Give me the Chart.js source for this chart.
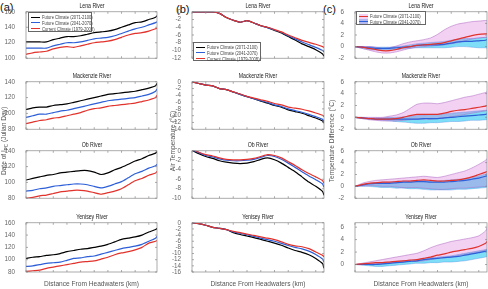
<!DOCTYPE html>
<html>
<head>
<meta charset="utf-8">
<script src="https://cdn.jsdelivr.net/npm/chart.js@4.4.1/dist/chart.umd.min.js"></script>
<style>
  html, body { margin: 0; padding: 0; background: #fff; }
  #fig { position: relative; width: 488px; height: 289px; overflow: hidden;
         font-family: 'Liberation Sans', Arial, sans-serif; color: #333; }
  #fig canvas { position: absolute; }
  .txt { position: absolute; white-space: nowrap; line-height: 1; }
  .panel { font-size: 11px; color: #111; }
  .river { font-size: 8px; color: #222; transform: translateX(-50%) scaleX(0.65); }
  .xtitle { font-size: 6.6px; color: #555; transform: translateX(-50%); }
  .ytitle { font-size: 6.6px; color: #555; transform: translate(-50%, -50%) rotate(-90deg); }
  .legend { position: absolute; background: #fff; border: 0.6px solid #666; box-sizing: border-box; }
  .legend .row { position: absolute; left: 0; height: 5px; }
  .legend .sw { position: absolute; left: 2px; top: 2px; width: 9px; height: 0; border-top: 1.3px solid #000; }
  .legend .patch { position: absolute; left: 2px; top: 0; width: 9px; height: 5px; }
  .legend .lt { position: absolute; left: 13px; top: -0.5px; font-size: 5.5px; color: #444; white-space: nowrap;
                transform: scaleX(0.75); transform-origin: left center; }
</style>
</head>
<body>
<div id="fig">
  <div class="txt panel" style="left:0px;top:2px">(a)</div>
  <div class="txt panel" style="left:176px;top:4px">(b)</div>
  <div class="txt panel" style="left:323px;top:4px">(c)</div>
</div>
<script>
// distance along the river (km)
const distanceKm = [0, 100, 200, 300, 400, 500, 600, 700, 800, 900, 1000, 1100, 1200, 1300, 1400, 1500, 1600, 1700, 1800, 1900, 1920];
const distanceTicks = [0, 200, 400, 600, 800, 1000, 1200, 1400, 1600, 1800];

const rivers = ['Lena River', 'Mackenzie River', 'Ob River', 'Yenisey River'];

// (a) date of ice-cover onset (Julian day)
const lenaDate2071 = [121, 121, 121, 121, 124, 126, 128, 128, 129, 131, 133, 134, 135, 137, 140, 143, 146, 147, 150, 153, 155];
const lenaDate2041 = [113, 113, 113, 113, 116, 118, 120, 120, 121, 123, 125, 126, 127, 129, 132, 135, 138, 140, 143, 146, 147];
const lenaDate1979 = [105, 107, 108, 109, 112, 114, 115, 114, 116, 118, 120, 121, 122, 124, 127, 130, 132, 133, 135, 138, 139];
const mackDate2071 = [105, 107, 108, 108, 110, 111, 112, 114, 116, 118, 120, 122, 124, 125, 126, 127, 128, 130, 132, 135, 138];
const mackDate2041 = [95, 97, 99, 99, 101, 103, 104, 106, 108, 110, 112, 114, 116, 117, 118, 119, 120, 122, 124, 128, 131];
const mackDate1979 = [87, 89, 91, 92, 94, 95, 97, 99, 101, 104, 106, 107, 109, 110, 111, 112, 113, 115, 117, 120, 123];
const obDate2071 = [103, 105, 107, 109, 110, 112, 113, 114, 115, 115, 113, 110, 112, 116, 119, 123, 127, 130, 134, 137, 139];
const obDate2041 = [89, 90, 92, 93, 95, 96, 97, 98, 98, 97, 95, 93, 95, 98, 101, 106, 111, 114, 118, 121, 123];
const obDate1979 = [80, 81, 83, 84, 86, 88, 89, 90, 90, 89, 87, 85, 87, 89, 92, 97, 102, 105, 109, 112, 114];
const yenDate2071 = [102, 104, 105, 107, 108, 110, 113, 115, 117, 118, 120, 122, 125, 129, 133, 135, 137, 140, 145, 149, 151];
const yenDate2041 = [89, 90, 92, 94, 95, 96, 99, 102, 103, 105, 106, 109, 112, 115, 118, 120, 122, 125, 130, 135, 138];
const yenDate1979 = [81, 82, 83, 86, 88, 90, 92, 94, 96, 97, 98, 101, 104, 108, 111, 113, 116, 120, 127, 130, 131];

// (b) air temperature (°C)
const lenaTemp2071 = [0, 0, 0, 0, -0.4, -1.5, -2.2, -2.7, -2.3, -2.9, -3.6, -4.1, -4.8, -5.5, -6.4, -7.3, -8.3, -9.0, -9.8, -10.9, -11.5];
const lenaTemp2041 = [0, 0, 0, 0, -0.4, -1.5, -2.2, -2.7, -2.3, -2.9, -3.6, -4.1, -4.7, -5.3, -6.2, -7.0, -7.8, -8.5, -9.2, -10.0, -10.4];
const lenaTemp1979 = [0, 0, 0, 0, -0.4, -1.5, -2.2, -2.7, -2.3, -2.9, -3.6, -4.0, -4.6, -5.2, -6.0, -6.7, -7.4, -7.9, -8.4, -9.0, -9.2];
const mackTemp2071 = [0, -0.5, -1, -1.2, -2, -2.3, -3, -3.7, -4.4, -5, -5.7, -6.3, -7, -7.5, -8.3, -8.8, -9.3, -10, -10.7, -11.6, -12.2];
const mackTemp2041 = [0, -0.5, -1, -1.2, -2, -2.3, -3, -3.7, -4.4, -5, -5.6, -6.1, -6.8, -7.3, -8, -8.5, -9, -9.6, -10.3, -11.1, -11.7];
const mackTemp1979 = [0, -0.5, -1, -1.2, -2, -2.3, -3, -3.6, -4.3, -4.8, -5.3, -5.8, -6.4, -6.8, -7.5, -7.8, -8.1, -8.6, -9.2, -9.9, -10.3];
const obTemp2071 = [0.1, -0.6, -1.2, -1.6, -2.1, -2.4, -2.6, -2.7, -2.6, -2.3, -1.8, -1.5, -1.9, -2.6, -3.5, -4.4, -5.5, -6.6, -7.5, -8.6, -9.4];
const obTemp2041 = [0.2, -0.4, -1, -1.3, -1.7, -2, -2.1, -2.1, -2, -1.8, -1.4, -1, -1.2, -1.8, -2.6, -3.5, -4.4, -5.3, -6.1, -7, -7.7];
const obTemp1979 = [0.3, -0.3, -0.8, -1.1, -1.5, -1.8, -1.9, -1.9, -1.8, -1.6, -1.2, -0.8, -1, -1.5, -2.3, -3.1, -4, -4.8, -5.5, -6.3, -6.9];
const yenTemp2071 = [0, -0.3, -0.8, -1.5, -1.8, -2.2, -3.2, -3.8, -4.3, -4.8, -5.4, -6, -6.6, -7.3, -8.2, -9, -9.6, -10.4, -11.6, -13.3, -14.8];
const yenTemp2041 = [0, -0.3, -0.8, -1.5, -1.8, -2.2, -3, -3.4, -3.9, -4.4, -5, -5.5, -6, -6.7, -7.4, -8, -8.5, -9.2, -10.3, -11.8, -12.8];
const yenTemp1979 = [0, -0.3, -0.8, -1.5, -1.8, -2.2, -2.8, -3.2, -3.7, -4.1, -4.6, -5, -5.5, -6.2, -7, -7.5, -7.8, -8.4, -9.5, -10.6, -11.1];

// (c) temperature difference (°C): mean and spread
const lenaDiff2071 = [0, -0.1, -0.3, -0.5, -0.7, -0.7, -0.5, -0.2, 0, 0.2, 0.3, 0.4, 0.5, 0.7, 1, 1.3, 1.6, 1.9, 2.1, 2.2, 2.2];
const lenaDiff2071Hi = [0, 0, 0, -0.1, -0.3, -0.2, 0.1, 0.5, 0.8, 1, 1.2, 1.5, 2.1, 2.9, 3.5, 3.9, 4.1, 4.3, 4.4, 4.5, 4.5];
const lenaDiff2071Lo = [0, -0.3, -0.6, -0.9, -1.1, -1.1, -0.9, -0.6, -0.3, -0.1, 0, 0.1, 0.2, 0.3, 0.5, 0.7, 1, 1.3, 1.5, 1.6, 1.6];
const lenaDiff2041 = [0, -0.1, -0.2, -0.3, -0.3, -0.3, -0.2, -0.1, 0, 0.2, 0.3, 0.3, 0.3, 0.4, 0.6, 0.8, 0.9, 0.9, 1, 1.1, 1.2];
const lenaDiff2041Hi = [0, 0, 0, -0.1, -0.1, -0.1, 0, 0.1, 0.3, 0.5, 0.6, 0.7, 0.8, 0.9, 1.1, 1.3, 1.4, 1.4, 1.5, 1.6, 1.7];
const lenaDiff2041Lo = [0, -0.3, -0.5, -0.6, -0.6, -0.6, -0.5, -0.4, -0.3, -0.2, -0.2, -0.2, -0.2, -0.2, -0.1, 0, 0, -0.1, -0.2, -0.2, -0.3];

const mackDiff2071 = [0, -0.1, -0.2, -0.3, -0.3, -0.3, -0.2, 0, 0.3, 0.5, 0.5, 0.5, 0.5, 0.7, 1, 1.2, 1.3, 1.5, 1.7, 1.9, 2];
const mackDiff2071Hi = [0, 0, 0, 0, 0, 0.2, 0.4, 0.8, 1.5, 2.2, 2.4, 2.4, 2.3, 2.5, 2.8, 3.1, 3.4, 3.6, 3.9, 4.2, 4.3];
const mackDiff2071Lo = [0, -0.2, -0.4, -0.5, -0.6, -0.6, -0.6, -0.5, -0.4, -0.3, -0.3, -0.3, -0.2, -0.1, 0.1, 0.3, 0.5, 0.7, 0.9, 1.1, 1.2];
const mackDiff2041 = [0, -0.1, -0.2, -0.3, -0.3, -0.3, -0.3, -0.3, -0.3, -0.3, -0.2, -0.2, -0.2, -0.1, 0, 0.1, 0.2, 0.3, 0.4, 0.5, 0.6];
const mackDiff2041Hi = [0, 0, -0.1, -0.1, -0.1, 0, 0, 0.1, 0.2, 0.3, 0.4, 0.5, 0.5, 0.6, 0.7, 0.8, 0.9, 1, 1.1, 1.2, 1.2];
const mackDiff2041Lo = [0, -0.2, -0.3, -0.4, -0.5, -0.6, -0.7, -0.8, -0.9, -1, -1, -0.9, -0.9, -0.8, -0.7, -0.7, -0.6, -0.5, -0.5, -0.4, -0.4];

const obDiff2071 = [0, 0.3, 0.5, 0.6, 0.7, 0.7, 0.8, 0.9, 0.9, 1, 1.1, 1, 0.9, 0.9, 1, 1.1, 1.3, 1.6, 2, 2.4, 2.5];
const obDiff2071Hi = [0, 0.5, 0.8, 1, 1.1, 1.2, 1.3, 1.4, 1.5, 1.6, 1.7, 1.6, 1.5, 1.7, 2, 2.3, 2.6, 3.1, 3.7, 4.4, 4.7];
const obDiff2071Lo = [0, 0.1, 0.1, 0.1, 0, 0, -0.1, -0.2, -0.2, -0.2, -0.3, -0.4, -0.5, -0.5, -0.4, -0.3, -0.3, -0.2, -0.1, 0, 0.1];
const obDiff2041 = [0, 0.2, 0.4, 0.5, 0.5, 0.5, 0.6, 0.7, 0.7, 0.8, 0.8, 0.7, 0.7, 0.7, 0.8, 0.9, 1, 1.2, 1.4, 1.7, 1.8];
const obDiff2041Hi = [0, 0.3, 0.5, 0.6, 0.7, 0.7, 0.8, 0.9, 0.9, 1, 1, 0.9, 0.9, 1, 1.1, 1.2, 1.3, 1.5, 1.8, 2.1, 2.2];
const obDiff2041Lo = [0, 0, 0, -0.1, -0.2, -0.2, -0.3, -0.3, -0.4, -0.4, -0.5, -0.6, -0.6, -0.6, -0.6, -0.5, -0.5, -0.4, -0.3, -0.2, -0.1];

const yenDiff2071 = [0, 0.1, 0.2, 0.3, 0.3, 0.4, 0.5, 0.6, 0.7, 0.8, 1, 1.2, 1.5, 1.7, 2, 2.2, 2.4, 2.6, 2.9, 3.4, 3.7];
const yenDiff2071Hi = [0, 0.2, 0.4, 0.6, 0.8, 1, 1.2, 1.4, 1.6, 1.8, 2.2, 2.7, 3.1, 3.4, 3.7, 3.9, 4.1, 4.3, 4.6, 5.4, 5.9];
const yenDiff2071Lo = [0, 0, 0.1, 0.1, 0.1, 0.2, 0.3, 0.4, 0.5, 0.5, 0.6, 0.8, 1, 1.1, 1.2, 1.4, 1.6, 1.8, 2, 2.3, 2.5];
const yenDiff2041 = [0, 0, 0, 0, 0.1, 0.2, 0.3, 0.4, 0.5, 0.6, 0.8, 0.9, 1, 1.1, 1.2, 1.3, 1.5, 1.7, 1.9, 2.1, 2.2];
const yenDiff2041Hi = [0, 0.1, 0.1, 0.2, 0.3, 0.4, 0.5, 0.6, 0.7, 0.8, 1, 1.1, 1.2, 1.3, 1.4, 1.6, 1.8, 2, 2.2, 2.4, 2.5];
const yenDiff2041Lo = [0, -0.1, -0.2, -0.3, -0.3, -0.2, -0.1, 0, 0.1, 0.2, 0.2, 0.3, 0.3, 0.4, 0.4, 0.5, 0.6, 0.8, 1, 1.2, 1.3];

// y tick labels per panel
const dateTicks = [[100, 120, 140, 160], [80, 100, 120, 140], [80, 100, 120, 140], [80, 100, 120, 140, 160]];
const tempTicks = [
  [-12, -10, -8, -6, -4, -2, 0],
  [-14, -12, -10, -8, -6, -4, -2, 0],
  [-10, -8, -6, -4, -2, 0],
  [-16, -14, -12, -10, -8, -6, -4, -2, 0]
];
const diffTicks = [[-2, 0, 2, 4, 6], [-2, 0, 2, 4, 6], [-2, 0, 2, 4, 6], [0, 2, 4, 6]];

const legendA = ['Future Climate (2071-2100)', 'Future Climate (2041-2070)', 'Current Climate (1979-2008)'];
const legendC = ['Future Climate (2071-2100)', 'Future Climate (2041-2070)'];

// layout (px)
const colLeft = [26, 192, 355];
const colRight = [157, 324, 487];
const rowTop = [10, 80, 149, 221];
const rowBottom = [61, 132, 201, 272];
const X_MAX = 1920;

const BLACK = '#000000';
const BLUE = '#2d5fd8';
const RED = '#e2322c';
const PINK_FILL = 'rgba(214,112,214,0.32)';
const PINK_EDGE = 'rgba(160,80,185,0.75)';
const CYAN_FILL = 'rgba(0,190,240,0.5)';
const CYAN_EDGE = 'rgba(70,110,220,0.6)';
const TICK_FONT = "'Liberation Sans Narrow', 'Liberation Sans', Arial, sans-serif";
const TICK_COLOR = '#666';

const fig = document.getElementById('fig');

function pts(values) {
  return values.map((v, i) => ({ x: distanceKm[i], y: v }));
}

function line(values, color, order) {
  return { data: pts(values), borderColor: color, borderWidth: 1.2, pointRadius: 0,
           tension: 0.2, fill: false, order: order };
}

function band(values, edge, order, fillColor) {
  return { data: pts(values), borderColor: edge, borderWidth: 0.6, pointRadius: 0,
           tension: 0.2, fill: fillColor ? '-1' : false, backgroundColor: fillColor || 'transparent',
           order: order };
}

// MATLAB-like box with inward ticks
const boxTicks = {
  id: 'boxTicks',
  afterDatasetsDraw(chart) {
    const { ctx, chartArea: a, scales: { x, y } } = chart;
    ctx.save();
    ctx.strokeStyle = '#888';
    ctx.lineWidth = 0.7;
    ctx.strokeRect(a.left, a.top, a.right - a.left, a.bottom - a.top);
    ctx.beginPath();
    x.ticks.forEach((t) => {
      const px = x.getPixelForValue(t.value);
      ctx.moveTo(px, a.bottom); ctx.lineTo(px, a.bottom - 2);
      ctx.moveTo(px, a.top); ctx.lineTo(px, a.top + 2);
    });
    y.ticks.forEach((t) => {
      const py = y.getPixelForValue(t.value);
      ctx.moveTo(a.left, py); ctx.lineTo(a.left + 2, py);
      ctx.moveTo(a.right, py); ctx.lineTo(a.right - 2, py);
    });
    ctx.stroke();
    ctx.restore();
  }
};

function makePanel(col, row, datasets, yMin, yMax, yTicks) {
  const L = colLeft[col], R = colRight[col], T = rowTop[row], B = rowBottom[row];
  const yW = 24, padT = 5, padR = 5, padB = 4;
  const xH = row === 3 ? 10 : 0;
  const w = yW + (R - L) + padR;
  const h = padT + (B - T) + xH + padB;
  const canvas = document.createElement('canvas');
  canvas.width = w;
  canvas.height = h;
  canvas.style.left = (L - yW) + 'px';
  canvas.style.top = (T - padT) + 'px';
  canvas.style.width = w + 'px';
  canvas.style.height = h + 'px';
  fig.appendChild(canvas);

  new Chart(canvas, {
    type: 'line',
    data: { datasets },
    plugins: [boxTicks],
    options: {
      responsive: false,
      animation: false,
      events: [],
      layout: { padding: { left: 0, right: padR, top: padT, bottom: padB } },
      plugins: { legend: { display: false }, tooltip: { enabled: false } },
      scales: {
        x: {
          type: 'linear', min: 0, max: X_MAX,
          afterBuildTicks: (s) => { s.ticks = distanceTicks.map((v) => ({ value: v })); },
          afterFit: (s) => { s.height = xH; },
          grid: { display: false }, border: { display: false },
          ticks: { display: row === 3, autoSkip: false, maxRotation: 0, padding: 2,
                   color: TICK_COLOR, font: { family: TICK_FONT, size: 6.3 } }
        },
        y: {
          min: yMin, max: yMax,
          afterBuildTicks: (s) => { s.ticks = yTicks.map((v) => ({ value: v })); },
          afterFit: (s) => { s.width = yW; },
          grid: { display: false }, border: { display: false },
          ticks: { autoSkip: false, padding: 3, color: TICK_COLOR, font: { family: TICK_FONT, size: 6.3 } }
        }
      }
    }
  });
}

function addText(cls, html, left, top) {
  const d = document.createElement('div');
  d.className = 'txt ' + cls;
  d.innerHTML = html;
  d.style.left = left + 'px';
  d.style.top = top + 'px';
  fig.appendChild(d);
}

function addLegend(left, top, width, height, items) {
  const box = document.createElement('div');
  box.className = 'legend';
  box.style.left = left + 'px';
  box.style.top = top + 'px';
  box.style.width = width + 'px';
  box.style.height = height + 'px';
  items.forEach((it, i) => {
    const r = document.createElement('div');
    r.className = 'row';
    r.style.top = (1.5 + i * 5.8) + 'px';
    r.style.width = width + 'px';
    let sw = '';
    if (it.patch) sw += '<div class="patch" style="background:' + it.patch + '"></div>';
    sw += '<div class="sw" style="border-top-color:' + it.color + '"></div>';
    r.innerHTML = sw + '<span class="lt">' + it.label + '</span>';
    box.appendChild(r);
  });
  fig.appendChild(box);
}

const dateSets = [
  [lenaDate2071, lenaDate2041, lenaDate1979],
  [mackDate2071, mackDate2041, mackDate1979],
  [obDate2071, obDate2041, obDate1979],
  [yenDate2071, yenDate2041, yenDate1979]
];
const dateRange = [[100, 160], [80, 140], [80, 140], [80, 160]];
const tempSets = [
  [lenaTemp2071, lenaTemp2041, lenaTemp1979],
  [mackTemp2071, mackTemp2041, mackTemp1979],
  [obTemp2071, obTemp2041, obTemp1979],
  [yenTemp2071, yenTemp2041, yenTemp1979]
];
const tempRange = [[-12, 0], [-14, 0], [-10, 0], [-16, 0]];
const diffSets = [
  [lenaDiff2071, lenaDiff2071Hi, lenaDiff2071Lo, lenaDiff2041, lenaDiff2041Hi, lenaDiff2041Lo],
  [mackDiff2071, mackDiff2071Hi, mackDiff2071Lo, mackDiff2041, mackDiff2041Hi, mackDiff2041Lo],
  [obDiff2071, obDiff2071Hi, obDiff2071Lo, obDiff2041, obDiff2041Hi, obDiff2041Lo],
  [yenDiff2071, yenDiff2071Hi, yenDiff2071Lo, yenDiff2041, yenDiff2041Hi, yenDiff2041Lo]
];
const diffRange = [[-2, 6], [-2, 6], [-2, 6], [-1.2, 6.7]];

for (let r = 0; r < 4; r++) {
  const [d1, d2, d3] = dateSets[r];
  makePanel(0, r, [line(d1, BLACK, 2), line(d2, BLUE, 1), line(d3, RED, 0)],
            dateRange[r][0], dateRange[r][1], dateTicks[r]);

  const [t1, t2, t3] = tempSets[r];
  makePanel(1, r, [line(t1, BLACK, 2), line(t2, BLUE, 1), line(t3, RED, 0)],
            tempRange[r][0], tempRange[r][1], tempTicks[r]);

  const [m71, hi71, lo71, m41, hi41, lo41] = diffSets[r];
  makePanel(2, r, [
    band(lo41, CYAN_EDGE, 5),
    band(hi41, CYAN_EDGE, 4, CYAN_FILL),
    band(lo71, PINK_EDGE, 3),
    band(hi71, PINK_EDGE, 2, PINK_FILL),
    line(m41, BLUE, 1),
    line(m71, RED, 0)
  ], diffRange[r][0], diffRange[r][1], diffTicks[r]);

  for (let c = 0; c < 3; c++) {
    addText('river', rivers[r], (colLeft[c] + colRight[c]) / 2, rowTop[r] - 8.5);
  }
}

for (let c = 0; c < 3; c++) {
  addText('xtitle', 'Distance From Headwaters (km)', (colLeft[c] + colRight[c]) / 2, 281);
}
addText('ytitle', 'Date of I<sub style="font-size:4.5px">PC</sub> (Julian Day)', 5, 141);
addText('ytitle', 'Air Temperature (°C)', 173, 141);
addText('ytitle', 'Temperature Difference (°C)', 332, 141);

addLegend(28, 12, 64, 20, [
  { label: legendA[0], color: BLACK },
  { label: legendA[1], color: BLUE },
  { label: legendA[2], color: RED }
]);
addLegend(193, 42, 68, 19, [
  { label: legendA[0], color: BLACK },
  { label: legendA[1], color: BLUE },
  { label: legendA[2], color: RED }
]);
addLegend(356, 11, 70, 14, [
  { label: legendC[0], color: RED, patch: '#f2d1f2' },
  { label: legendC[1], color: BLUE, patch: '#b3b9ee' }
]);
</script>
</body>
</html>
